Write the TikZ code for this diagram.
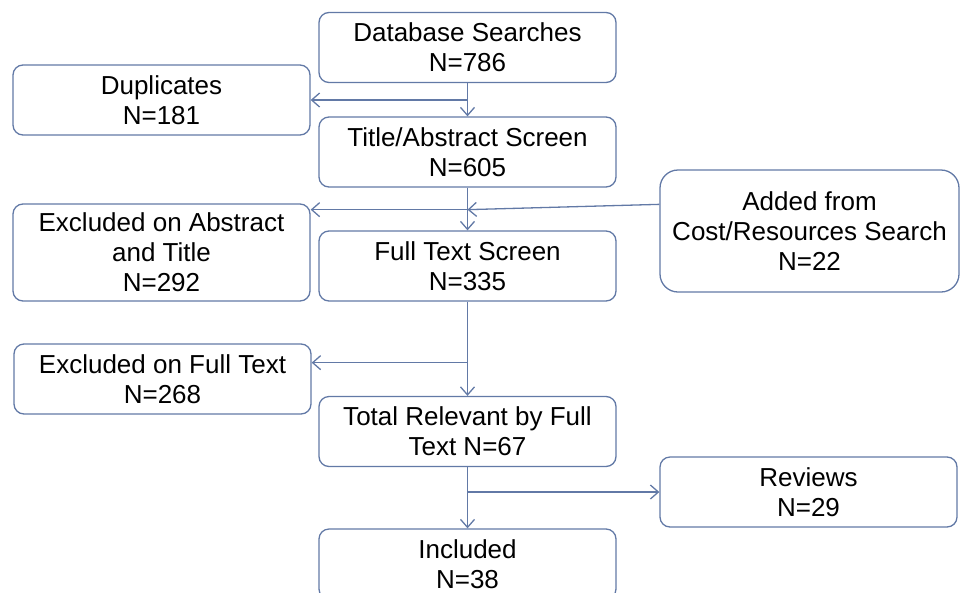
\documentclass[tikz,border=0pt]{standalone}
\usepackage{xcolor}
\usepackage{fontspec}
\setmainfont{Liberation Sans}
\usepackage{tikz}
\usetikzlibrary{arrows.meta,calc}
\definecolor{flowblue}{RGB}{98,121,166}

\begin{document}
\begin{tikzpicture}[x=1pt,y=-1pt,
    box/.style={draw=flowblue,line width=1.3pt,rounded corners=10pt,
      minimum width=297pt,minimum height=70pt,inner sep=0pt,align=center,
      font=\fontsize{26}{30}\selectfont},
    flow/.style={draw=flowblue,line width=1.3pt,
      -{Straight Barb[length=8pt,width=14pt,line width=1.3pt]}}]
    \clip (0,0) rectangle (960,592);

    % main column
    \node[box] (db) at (467.5,47.5) {Database Searches\\N=786};
    \node[box] (title) at (467.5,152) {Title/Abstract Screen\\N=605};
    \node[box] (full) at (467.5,266) {Full Text Screen\\N=335};
    \node[box] (total) at (467.5,431.5) {Total Relevant by Full\\Text N=67};
    \node[box] (incl) at (467.5,564) {Included\\N=38};

    % side boxes
    \node[box] (dup) at (161.5,100) {Duplicates\\N=181};
    \node[box,minimum height=97pt] (exabs) at (161.5,252.5) {Excluded on Abstract\\and Title\\N=292};
    \node[box,minimum width=299pt,minimum height=122pt,rounded corners=18pt] (added) at (809.5,231) {Added from\\Cost/Resources Search\\N=22};
    \node[box] (exfull) at (162.5,379) {Excluded on Full Text\\N=268};
    \node[box] (rev) at (808.5,492) {Reviews\\N=29};

    \coordinate (j1) at ($(title.south)+(0,22)$);
    \coordinate (j2) at ($(full.south)+(0,61)$);
    \coordinate (a1) at ($(added.north west)+(0,35)$);

    \draw[flow] (db) -- (title);
    \draw[flow] (db.south |- dup.east) -- (dup.east);
    \draw[flow] (title) -- (full);
    \draw[flow] (j1) -- (j1 -| exabs.east);
    \draw[flow] (a1) -- (j1);
    \draw[flow] (full) -- (total);
    \draw[flow] (j2) -- (j2 -| exfull.east);
    \draw[flow] (total) -- (incl);
    \draw[flow] (total.south |- rev.west) -- (rev.west);
\end{tikzpicture}
\end{document}
